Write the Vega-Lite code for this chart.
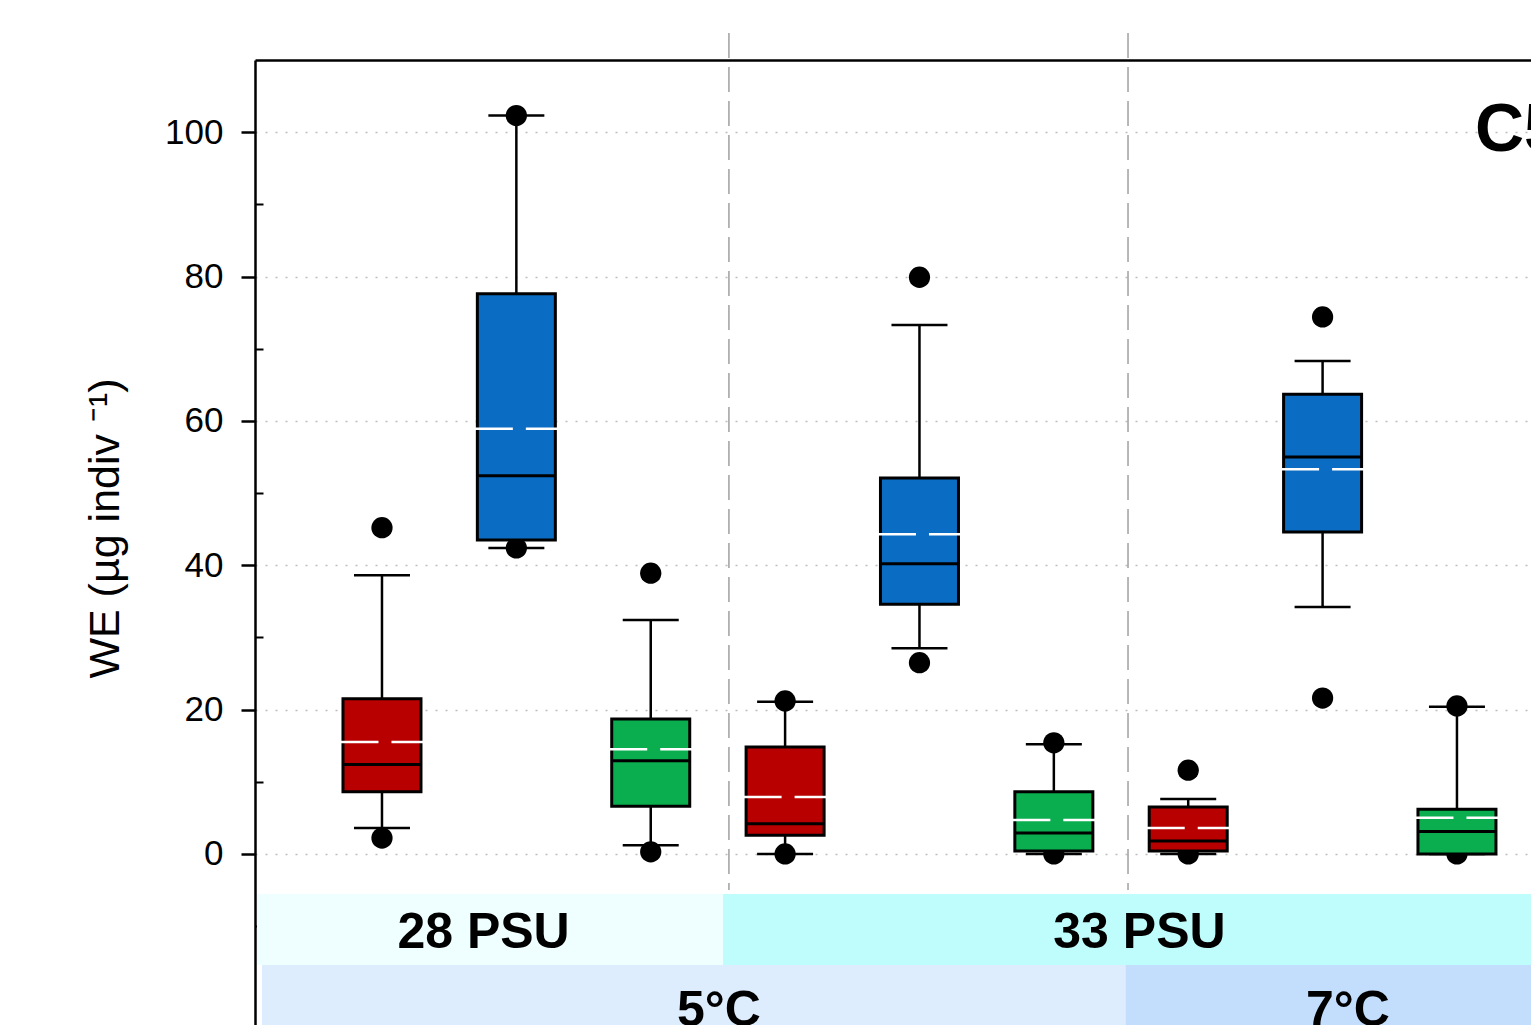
{
  "$schema": "https://vega.github.io/schema/vega-lite/v6.json",
  "width": 1276,
  "height": 965,
  "autosize": {"type": "none"},
  "padding": {"left": 255, "top": 60, "right": 0, "bottom": 0},
  "background": "white",
  "config": {"view": {"stroke": null}, "font": "Liberation Sans"},
  "resolve": {"scale": {"color": "independent"}},
  "datasets": {
    "boxes": [
      {"pos": 1, "series": "S1", "lo": 3.6, "q1": 8.6, "med": 12.4, "mean": 15.5, "q3": 21.5, "hi": 38.6, "dmin": 2.2, "dmax": 45.2},
      {"pos": 2, "series": "S2", "lo": 42.4, "q1": 43.5, "med": 52.4, "mean": 58.9, "q3": 77.6, "hi": 102.3, "dmin": 42.4, "dmax": 102.3},
      {"pos": 3, "series": "S3", "lo": 1.2, "q1": 6.6, "med": 12.9, "mean": 14.5, "q3": 18.7, "hi": 32.4, "dmin": 0.3, "dmax": 38.9},
      {"pos": 4, "series": "S1", "lo": 0, "q1": 2.6, "med": 4.2, "mean": 7.9, "q3": 14.8, "hi": 21.1, "dmin": 0, "dmax": 21.2},
      {"pos": 5, "series": "S2", "lo": 28.5, "q1": 34.6, "med": 40.2, "mean": 44.3, "q3": 52.1, "hi": 73.3, "dmin": 26.5, "dmax": 79.9},
      {"pos": 6, "series": "S3", "lo": 0, "q1": 0.4, "med": 2.9, "mean": 4.7, "q3": 8.6, "hi": 15.2, "dmin": 0, "dmax": 15.4},
      {"pos": 7, "series": "S1", "lo": 0, "q1": 0.4, "med": 1.8, "mean": 3.6, "q3": 6.5, "hi": 7.6, "dmin": 0, "dmax": 11.6},
      {"pos": 8, "series": "S2", "lo": 34.2, "q1": 44.6, "med": 55.0, "mean": 53.3, "q3": 63.7, "hi": 68.3, "dmin": 21.6, "dmax": 74.4},
      {"pos": 9, "series": "S3", "lo": 0, "q1": 0, "med": 3.1, "mean": 5.0, "q3": 6.2, "hi": 20.4, "dmin": 0, "dmax": 20.5}
    ],
    "bands": [
      {"band": "28 PSU", "x1": 0.07, "x2": 3.538, "y1": -5.54, "y2": -15.38},
      {"band": "33 PSU", "x1": 3.538, "x2": 9.551, "y1": -5.54, "y2": -15.38},
      {"band": "5°C", "x1": 0.107, "x2": 6.533, "y1": -15.38, "y2": -23.7},
      {"band": "7°C", "x1": 6.533, "x2": 9.551, "y1": -15.38, "y2": -23.7}
    ],
    "bandLabels": [
      {"text": "28 PSU", "x": 1.756, "y": -13.02},
      {"text": "33 PSU", "x": 6.637, "y": -13.02},
      {"text": "5°C", "x": 3.508, "y": -23.8},
      {"text": "7°C", "x": 8.189, "y": -23.8}
    ],
    "separators": [{"x": 3.582}, {"x": 6.552}]
  },
  "layer": [
    {
      "data": {"name": "bands"},
      "mark": {"type": "rect"},
      "encoding": {
        "x": {"field": "x1", "type": "quantitative", "scale": {"domain": [0.055, 9.551], "nice": false, "zero": false, "padding": 0},
          "axis": {"orient": "top", "ticks": false, "labels": false, "grid": false, "title": null, "domainColor": "black", "domainWidth": 2.5}},
        "x2": {"field": "x2"},
        "y": {"field": "y1", "type": "quantitative", "scale": {"domain": [-23.7, 110], "nice": false, "zero": false, "padding": 0},
          "axis": {
            "title": "WE (µg indiv ⁻¹)",
            "values": [-10, 0, 10, 20, 30, 40, 50, 60, 70, 80, 90, 100],
            "labelExpr": "datum.value % 20 === 0 ? datum.label : ''",
            "labelFont": "Liberation Sans",
            "labelFontSize": 35,
            "labelColor": "black",
            "labelPadding": 18,
            "tickColor": "black",
            "tickSize": {"condition": {"test": "datum.value % 20 !== 0", "value": -8}, "value": 14},
            "tickWidth": {"condition": {"test": "datum.value % 20 !== 0", "value": 2}, "value": 2.5},
            "domainColor": "black",
            "domainWidth": 2.5,
            "grid": true,
            "gridColor": "#bdbdbd",
            "gridDash": [2, 8],
            "gridWidth": 1.5,
            "gridOpacity": {"condition": {"test": "datum.value % 20 !== 0", "value": 0}, "value": 1},
            "titleFont": "Liberation Sans",
            "titleFontSize": 43,
            "titleFontWeight": "normal",
            "titleColor": "black",
            "titleAngle": -90,
            "titleX": -137,
            "titleY": 468,
            "titleAlign": "center",
            "titleBaseline": "alphabetic"
          }},
        "y2": {"field": "y2"},
        "color": {"field": "band", "type": "nominal", "legend": null,
          "scale": {"domain": ["28 PSU", "33 PSU", "5°C", "7°C"], "range": ["#effefe", "#bffdfd", "#ddedfd", "#c2defc"]}}
      }
    },
    {
      "mark": {"type": "rule", "color": "#a0a0a0", "strokeWidth": 1.5},
      "encoding": {
        "x": {"datum": 0.055, "type": "quantitative"},
        "x2": {"datum": 9.551},
        "y": {"datum": -5, "type": "quantitative"}
      }
    },
    {
      "data": {"name": "separators"},
      "mark": {"type": "rule", "color": "#a0a0a0", "strokeWidth": 1.5, "strokeDash": [25, 9]},
      "encoding": {
        "x": {"field": "x", "type": "quantitative"},
        "y": {"datum": 113.75, "type": "quantitative"},
        "y2": {"datum": -5}
      }
    },
    {
      "data": {"name": "bandLabels"},
      "mark": {"type": "text", "font": "Liberation Sans", "fontSize": 50, "fontWeight": "bold", "color": "black", "align": "center", "baseline": "alphabetic"},
      "encoding": {
        "x": {"field": "x", "type": "quantitative"},
        "y": {"field": "y", "type": "quantitative"},
        "text": {"field": "text"}
      }
    },
    {
      "data": {"values": [{"label": "C5", "x": 9.134, "y": 97.4}]},
      "mark": {"type": "text", "font": "Liberation Sans", "fontSize": 68, "fontWeight": "bold", "color": "black", "align": "left", "baseline": "alphabetic"},
      "encoding": {
        "x": {"field": "x", "type": "quantitative"},
        "y": {"field": "y", "type": "quantitative"},
        "text": {"field": "label"}
      }
    },
    {
      "data": {"name": "boxes"},
      "mark": {"type": "rule", "color": "black", "strokeWidth": 2.5},
      "encoding": {
        "x": {"field": "pos", "type": "quantitative"},
        "y": {"field": "lo", "type": "quantitative"},
        "y2": {"field": "hi"}
      }
    },
    {
      "data": {"name": "boxes"},
      "mark": {"type": "tick", "orient": "horizontal", "color": "black", "size": 56, "thickness": 2.5, "opacity": 1},
      "encoding": {
        "x": {"field": "pos", "type": "quantitative"},
        "y": {"field": "hi", "type": "quantitative"}
      }
    },
    {
      "data": {"name": "boxes"},
      "mark": {"type": "tick", "orient": "horizontal", "color": "black", "size": 56, "thickness": 2.5, "opacity": 1},
      "encoding": {
        "x": {"field": "pos", "type": "quantitative"},
        "y": {"field": "lo", "type": "quantitative"}
      }
    },
    {
      "data": {"name": "boxes"},
      "mark": {"type": "point", "filled": true, "color": "black", "size": 452, "opacity": 1},
      "encoding": {
        "x": {"field": "pos", "type": "quantitative"},
        "y": {"field": "dmax", "type": "quantitative"}
      }
    },
    {
      "data": {"name": "boxes"},
      "mark": {"type": "point", "filled": true, "color": "black", "size": 452, "opacity": 1},
      "encoding": {
        "x": {"field": "pos", "type": "quantitative"},
        "y": {"field": "dmin", "type": "quantitative"}
      }
    },
    {
      "data": {"name": "boxes"},
      "mark": {"type": "bar", "orient": "vertical", "size": 78, "stroke": "black", "strokeWidth": 3, "opacity": 1},
      "encoding": {
        "x": {"field": "pos", "type": "quantitative"},
        "y": {"field": "q3", "type": "quantitative"},
        "y2": {"field": "q1"},
        "fill": {"field": "series", "type": "nominal", "legend": null,
          "scale": {"domain": ["S1", "S2", "S3"], "range": ["#b80000", "#0a6cc2", "#0bae4f"]}}
      }
    },
    {
      "data": {"name": "boxes"},
      "mark": {"type": "tick", "orient": "horizontal", "color": "black", "size": 79, "thickness": 3, "opacity": 1},
      "encoding": {
        "x": {"field": "pos", "type": "quantitative"},
        "y": {"field": "med", "type": "quantitative"}
      }
    },
    {
      "data": {"name": "boxes"},
      "mark": {"type": "tick", "orient": "horizontal", "color": "white", "size": 38, "thickness": 2.5, "xOffset": -22.5, "opacity": 1},
      "encoding": {
        "x": {"field": "pos", "type": "quantitative"},
        "y": {"field": "mean", "type": "quantitative"}
      }
    },
    {
      "data": {"name": "boxes"},
      "mark": {"type": "tick", "orient": "horizontal", "color": "white", "size": 32, "thickness": 2.5, "xOffset": 25.5, "opacity": 1},
      "encoding": {
        "x": {"field": "pos", "type": "quantitative"},
        "y": {"field": "mean", "type": "quantitative"}
      }
    }
  ]
}
